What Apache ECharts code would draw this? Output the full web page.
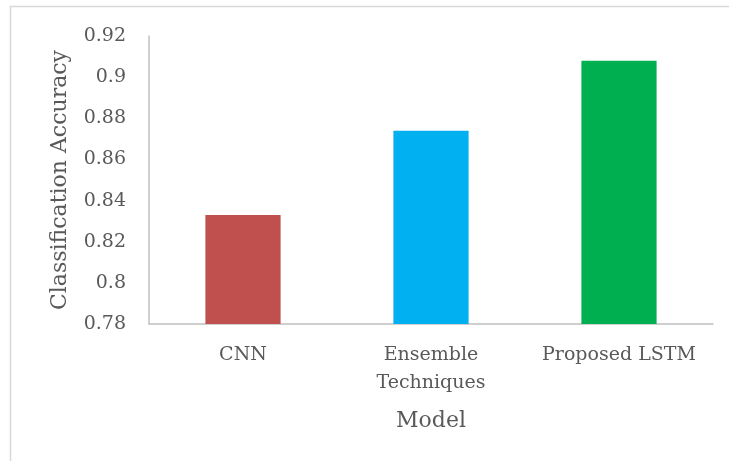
<!DOCTYPE html>
<html>
<head>
<meta charset="utf-8">
<script src="https://cdn.jsdelivr.net/npm/echarts@6/dist/echarts.min.js"></script>
<style>
  html, body { margin: 0; padding: 0; background: #fff; }
  #chart { width: 729px; height: 461px; }
</style>
</head>
<body>
<div id="chart"></div>
<script>
// data
const models = ['CNN', 'Ensemble\nTechniques', 'Proposed LSTM'];
const accuracy = [0.833, 0.874, 0.908];
const barColors = ['#C0504D', '#00B0F0', '#00B050'];

const yMin = 0.78;
const yMax = 0.92;
const yStep = 0.02;

const textColor = '#595959';
const axisColor = '#c0c0c0';
const font = '"DejaVu Serif", serif';

const chart = echarts.init(document.getElementById('chart'));

const option = {
    animation: false,
    graphic: [{
        type: 'rect',
        shape: { x: 10.5, y: 6.5, width: 740, height: 470 },
        style: { fill: 'none', stroke: '#d9d9d9', lineWidth: 1.5 },
        silent: true
    }],
    grid: { left: 149, right: 16, top: 36, bottom: 137 },
    xAxis: {
        type: 'category',
        data: models,
        name: 'Model',
        nameLocation: 'middle',
        nameGap: 86,
        nameTextStyle: { color: textColor, fontFamily: font, fontSize: 22, lineHeight: 22 },
        axisLine: { lineStyle: { color: axisColor, width: 1.5 } },
        axisTick: { show: false },
        axisLabel: {
            color: textColor, fontFamily: font, fontSize: 19, lineHeight: 28,
            margin: 17, interval: 0
        }
    },
    yAxis: {
        type: 'value',
        min: yMin,
        max: yMax,
        interval: yStep,
        name: 'Classification Accuracy',
        nameLocation: 'middle',
        nameRotate: 90,
        nameGap: 78,
        nameTextStyle: { color: textColor, fontFamily: font, fontSize: 22, lineHeight: 22 },
        axisLine: { show: true, lineStyle: { color: axisColor, width: 1.5 } },
        axisTick: { show: false },
        splitLine: { show: false },
        axisLabel: { color: textColor, fontFamily: font, fontSize: 19, margin: 23 }
    },
    series: [{
        type: 'bar',
        barWidth: '40%',
        data: accuracy.map((v, i) => ({ value: v, itemStyle: { color: barColors[i] } }))
    }]
};

chart.setOption(option);
</script>
</body>
</html>
